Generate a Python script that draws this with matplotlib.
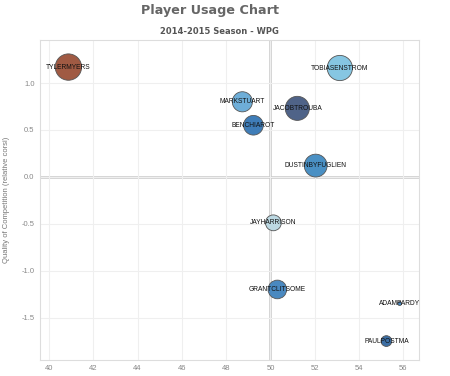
import matplotlib
matplotlib.use("Agg")
import matplotlib.pyplot as plt

# player data
players = ["TYLERMYERS", "TOBIASENSTROM", "MARKSTUART", "BENCHIAROT", "JACOBTROUBA",
           "DUSTINBYFUGLIEN", "JAYHARRISON", "GRANTCLITSOME", "ADAMPARDY", "PAULPOSTMA"]
zone_start = [40.88, 53.13, 48.73, 49.23, 51.21, 52.04, 50.13, 50.31, 55.83, 55.23]
qual_comp = [1.17, 1.16, 0.80, 0.55, 0.73, 0.12, -0.49, -1.20, -1.35, -1.75]
bubble_size = [360, 330, 210, 200, 300, 270, 130, 180, 8, 60]
colors = ["#a05a43", "#86c6e2", "#6eaed8", "#3f7db8", "#4f6388",
          "#4a90c4", "#bcd8e2", "#4a89c0", "#4a89c0", "#3c6fa5"]

xticks = [40, 42, 44, 46, 48, 50, 52, 54, 56]
yticks = [-1.5, -1.0, -0.5, 0.0, 0.5, 1.0]

fig = plt.figure(figsize=(4.5, 3.76), dpi=100)
ax = fig.add_axes([0.089, 0.043, 0.842, 0.851])

ax.scatter(zone_start, qual_comp, s=bubble_size, c=colors,
           edgecolors="#555555", linewidths=0.6, zorder=3)

for name, x, y in zip(players, zone_start, qual_comp):
    ax.text(x, y, name, ha="center", va="center", fontsize=4.8,
            family="Liberation Sans", color="#111111", zorder=4)

ax.axvline(50, color="#c8c8c8", lw=1.8, zorder=1)
ax.axhline(0, color="#c8c8c8", lw=1.8, zorder=1)

ax.set_xlim(39.6, 56.7)
ax.set_ylim(-1.95, 1.46)
ax.set_xticks(xticks)
ax.set_yticks(yticks)
ax.set_xticklabels([str(t) for t in xticks])
ax.set_yticklabels(["%.1f" % t for t in yticks])
ax.tick_params(labelsize=5.5, colors="#888888", length=0, pad=4)
for lab in ax.get_xticklabels() + ax.get_yticklabels():
    lab.set_family("Liberation Sans")
ax.grid(True, color="#efefef", lw=0.8, zorder=0)
for sp in ax.spines.values():
    sp.set_color("#dddddd")
    sp.set_linewidth(0.8)

ax.set_ylabel("Quality of Competition (relative corsi)", fontsize=5.5,
              color="#777777", family="Liberation Sans", labelpad=8)

fig.text(0.467, 0.972, "Player Usage Chart", ha="center", va="center",
         fontsize=9.2, fontweight="bold", color="#666666", family="DejaVu Sans")
fig.text(0.488, 0.915, "2014-2015 Season - WPG", ha="center", va="center",
         fontsize=6, fontweight="bold", color="#555555", family="DejaVu Sans")

fig.savefig("out.png", dpi=100)
